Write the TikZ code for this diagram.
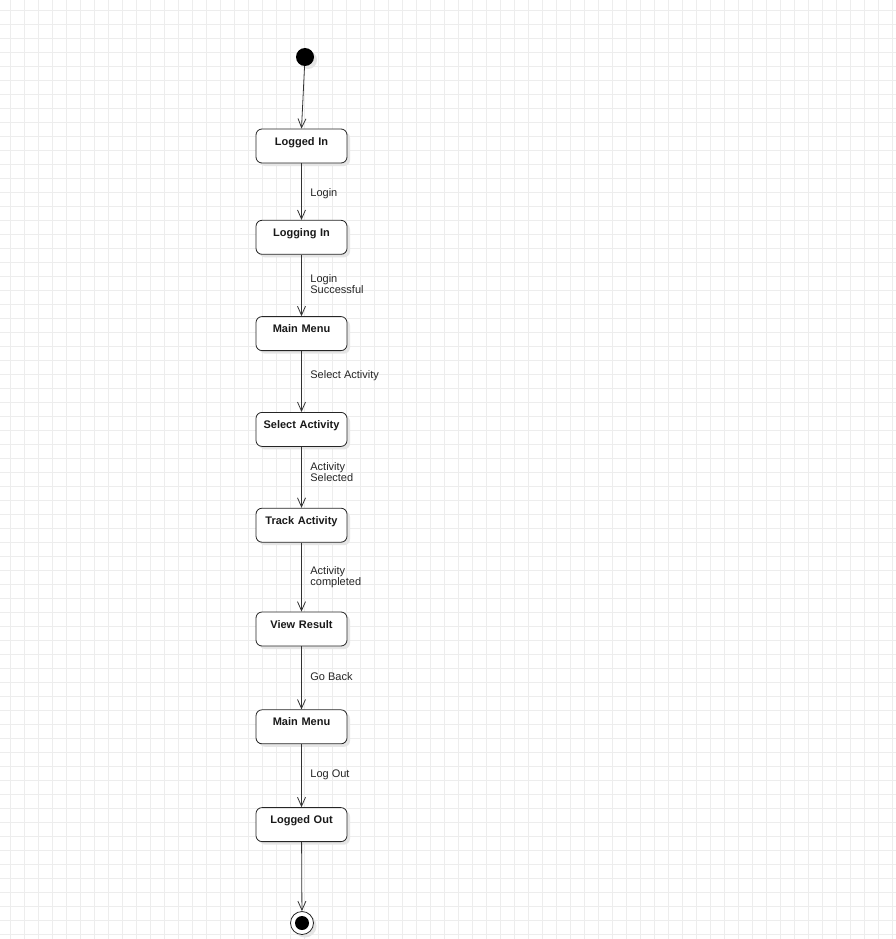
\documentclass[tikz,border=0pt]{standalone}
\usepackage{fontspec}
\setmainfont{Liberation Sans}
\usetikzlibrary{arrows.meta,positioning,shadows}

\begin{document}
\begin{tikzpicture}[
    x=1pt, y=-1pt,
    gridline/.style={draw=black!7, line width=0.9pt},
    shade/.style={drop shadow={shadow xshift=3pt, shadow yshift=-3pt, fill=black!10, opacity=1}},
    state/.style={draw=black!85, rounded corners=6pt, fill=white, shade, line width=0.8pt,
        minimum width=91pt, inner sep=0pt, text width=91pt, align=center,
        text height=16pt, text depth=18pt, font=\bfseries\fontsize{11}{11}\selectfont, text=black!90},
    lbl/.style={anchor=west, align=left, inner sep=0pt, xshift=8.5pt,
        font=\fontsize{11}{11}\selectfont, text=black!85},
    arr/.style={-{Straight Barb[length=9pt, width=8pt]}, draw=black!80, line width=0.8pt},
]
\useasboundingbox (0,0) rectangle (896,939);
\fill[white] (0,0) rectangle (896,939);

% background grid
\foreach \g in {10,24,...,896} {
  \draw[gridline] (\g,0) -- (\g,939);
}
\foreach \g in {10,24,...,939} {
  \draw[gridline] (0,\g) -- (896,\g);
}

% states
\node[circle, fill=black, minimum size=18pt, inner sep=0pt, shade] (start) at (305,57) {};
\node[state] (loggedin) at (301.5,146) {Logged In};
\node[state, below=56.5pt of loggedin] (loggingin) {Logging In};
\node[state, below=61.5pt of loggingin] (mainmenu) {Main Menu};
\node[state, below=61pt of mainmenu] (selectact) {Select Activity};
\node[state, below=61pt of selectact] (trackact) {Track Activity};
\node[state, below=69pt of trackact] (viewresult) {View Result};
\node[state, below=63pt of viewresult] (mainmenutwo) {Main Menu};
\node[state, below=63pt of mainmenutwo] (loggedout) {Logged Out};
\node[circle, draw=black!85, fill=white, line width=0.8pt, minimum size=23pt, inner sep=0pt, shade] (stop) at (302,923) {};
\node[circle, fill=black, minimum size=14pt, inner sep=0pt] (stopdot) at (stop.center) {};

% transitions
\draw[arr] (start) -- (loggedin.north);
\draw[arr] (loggedin) -- node[lbl, pos=0.54] {Login} (loggingin);
\draw[arr] (loggingin) -- node[lbl, pos=0.48] {Login\\Successful} (mainmenu);
\draw[arr] (mainmenu) -- node[lbl, pos=0.41] {Select Activity} (selectact);
\draw[arr] (selectact) -- node[lbl, pos=0.42] {Activity\\Selected} (trackact);
\draw[arr] (trackact) -- node[lbl, pos=0.5] {Activity\\completed} (viewresult);
\draw[arr] (viewresult) -- node[lbl, pos=0.48] {Go Back} (mainmenutwo);
\draw[arr] (mainmenutwo) -- node[lbl, pos=0.48] {Log Out} (loggedout);
\draw[arr] (loggedout) -- (stop);
\end{tikzpicture}
\end{document}
